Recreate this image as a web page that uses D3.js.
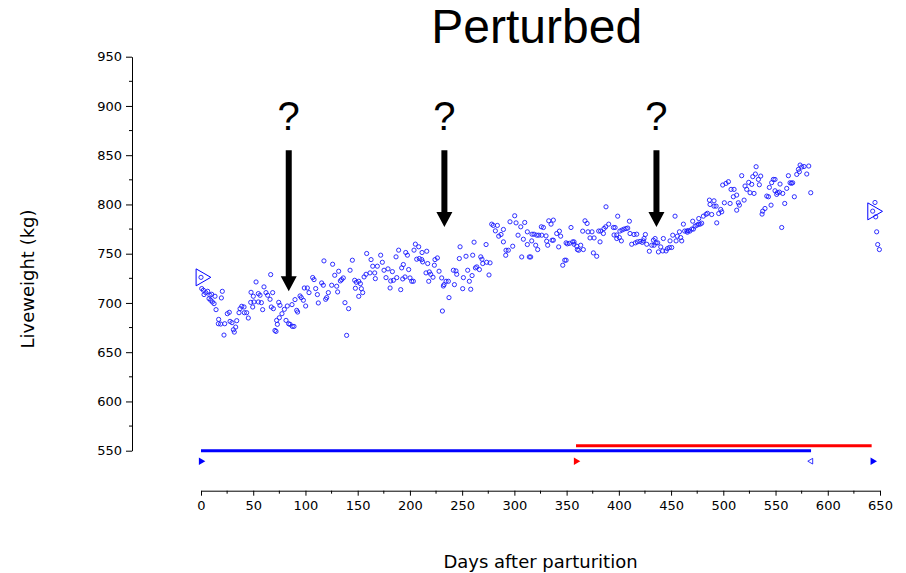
<!DOCTYPE html>
<html>
<head>
<meta charset="utf-8">
<script src="https://cdn.jsdelivr.net/npm/d3@7"></script>
<style>
  html, body { margin: 0; padding: 0; background: #fff; }
  svg { display: block; }
</style>
</head>
<body>
<svg id="chart" width="906" height="573"></svg>
<script>
// Daily liveweight records: [day after parturition, liveweight kg]
const weighings = [
  [0,726],[0.7,714.6],[2.3,712.9],[2.9,708.5],[4.5,710.5],[6.4,711.8],[8.6,707.8],[10.2,708.8],[7.7,704.4],[9.3,702.7],
  [10.9,701],[12.5,699.3],[13.4,706.8],[20.4,711.8],[19.5,705.1],[14.4,693.2],[16.9,683.3],[18.8,678.6],[16.6,678.9],[22.7,678.9],
  [25.2,689.1],[27.1,690.5],[27.8,681.3],[29.7,680],[34.2,682],[33.2,675.5],[31,672.8],[31.9,670.4],[22,667.4],[37.4,694.2],
  [39,696.6],[41.2,695.9],[36.4,690.1],[41.5,690.1],[43.7,690.1],[45.3,684.7],[49.5,695.9],[47.9,710.8],[50.1,706.8],[52.7,721.3],
  [54.9,709.5],[56.5,707.8],[60.3,716.3],[62.2,710.5],[63.8,707.8],[68.6,710.5],[66.1,703.7],[47.6,700.6],[50.7,701],[54.9,701],
  [57.8,700.3],[59,693.2],[66.7,728.8],[67.3,695.9],[69.3,694.2],[74.4,700.6],[75.6,697.6],[70.8,672.1],[71.8,671.1],[72.4,682.3],
  [73.1,678.3],[75,685],[77.5,689.1],[79.8,693.5],[81.4,682.3],[82.6,696.9],[85.2,678.3],[87.4,676.2],[89,676.2],[83.9,678.9],
  [87.1,698.3],[91.6,692.5],[92.5,690.8],[90,703.4],[94.8,707.1],[96,705.4],[98,702.7],[100.2,696.9],[98.9,715.2],[101.8,715.2],
  [103.4,710.5],[106.9,725.8],[108.2,723.7],[109.8,714.6],[111.4,708.5],[112.3,700],[115.5,720.3],[117.1,718],[117.7,742.7],[119.3,703.7],
  [120.3,705.4],[121.9,710.5],[125.1,718],[126,739.3],[128,728.1],[129.9,717],[130.8,711.2],[131.8,732.2],[133.4,722.4],[134.6,723.7],
  [136.2,725.4],[137.8,700.3],[139.4,667.1],[141.3,694.2],
  [142.7,733.2],[144.9,743.4],[147.1,723],[148.7,721],[151,722],[152.6,719.6],[147.8,714.9],[153.5,714.5],[154.8,710.5],[151,706.7],
  [156.1,726.4],[158,729.1],[161.8,730.5],[164.4,737.3],[166.3,730.5],[166.9,724.7],[168.8,737.3],[158.6,750.2],[162.8,744],[172,748.5],
  [173.6,741.3],[175.2,733.2],[177.1,725.7],[179,734.6],[181,715.2],[183.2,731.8],[181.6,722.3],[184.2,723],[186.7,746.8],[189.2,753.6],
  [187.4,725.7],[192.1,735.6],[193.7,739],[191.2,713.5],[193.1,724.4],[195.3,726.4],[196,751.2],[197.6,748.5],[198.8,733.9],[200.1,725.4],
  [201.7,722],[203.3,722],[203.9,753.6],[205.2,759.7],[208.4,757],[206.5,744.4],[209,745.1],[211.3,744],[211.6,751.2],[216.1,752.5],
  [212.2,741.7],[217,740],[215.4,730.5],[218.6,731.5],[219.9,729.1],[218,722],[222.1,726.1],[224,744],[226.3,745.7],[223.4,738.3],
  [227.9,732.2],[230.4,725.4],[232.7,718.6],[234.6,722],[232,717.2],[236.8,722],[237.4,705.4],[231.1,691.8],[242.6,718.6],[241.6,733.2],
  [244.1,732.5],[244.8,729.1],[248,757],[247.3,745.1],[251.2,725.7],[250.5,714.5],[253.7,747.4],[255.3,733.2],[256.9,722],[258.2,713.9],
  [259.5,727.8],[260.1,748.5],[261.4,761.7],[262.7,735.6],[264,736.6],[266.5,733.9],[267.8,746.8],[269,744.4],[269.7,740],[272.9,759.3],
  [273.5,741.3],[276.7,740.7],[275.7,728.4],[278.3,780],[279.8,778.7],[281.8,773.2],[283.7,778.7],[285,767.8],
  [287.2,769.5],[289.5,774.6],[289.5,762],[295.8,782.4],[300.3,788.5],[301.6,781.3],[298.4,757.6],[294.2,753.5],[292,753.5],[291.7,748.4],
  [303.5,768.8],[306.1,777.3],[309.9,781.7],[308.6,764.7],[307,746.7],[314.3,746.7],[315.6,746.7],[312.4,759.3],[312.4,772.2],[316.9,769.8],
  [318.8,769.8],[316.6,763],[321.4,768.8],[323.3,768.8],[320.4,758.6],[322.3,754.2],[325.8,777.3],[327.8,776.6],[326.2,768.8],[330.3,768.1],
  [330.9,762.7],[331.9,758.6],[332.9,783.4],[335.1,780],[337.3,784.1],[337.3,763.7],[336.1,763.7],[340.5,770.5],[343.1,772.9],[344.3,767.8],
  [342.4,756.9],[346.3,738.3],[348.2,743.4],[349.5,743.4],[349.5,761],[354.2,776.6],[350.7,760],[352.6,760.5],[355.8,762],[357.1,762],
  [357.1,759.6],[359.7,757.6],[360.3,754.2],[361.6,753.5],[363.5,758.6],[366,754.2],[365.4,772.9],[367.6,783.4],[369.6,780.7],[370.5,772.2],
  [374.3,772.2],[372.4,766],[376.3,766],[375.6,750.8],[378.8,747.4],[382,762],[380.7,773],[382.6,773],[385.2,770.5],[385.8,775.6],
  [387.4,777.3],[387.7,797.6],[390.3,780],[394.8,776.6],[396.4,776.6],[395.4,769],[398,769],[398.9,788.1],[398,765.4],[401,773],
  [403,774],[405,775],[407,775.5],[408.5,776],[400.5,766.4],[402.4,763],[410.1,783],[410.7,770.5],[412.3,759.6],[414.5,769.5],
  [415.8,761],[417.7,762],[420.3,762.5],[422.4,761.5],[423.5,763],[417.1,769.8],[425.4,769.5],[426.7,759.6],[424.1,765.4],
  [429.2,752.5],[431.5,758.6],[433.1,763.7],[434.7,765.4],[435.6,761],[437.2,761],[433.7,758.6],[437.9,751.8],[440.1,756.9],[442,752.8],
  [442.6,765.4],[445.2,752.8],[446.5,755.2],[448.4,756.3],[450.6,756.3],[449,763],[451.6,768.8],[453.8,788.1],[454.8,763],[456,767.8],
  [458,772.2],[459.2,766.4],[460.2,763],[461.8,780],[463,773],[465,773],[466.5,773.5],[468,773],[465.6,771.8],[469.8,775],
  [471.4,775],[470.7,783],[473,778],[474.8,779],[476.3,780],[477.8,780],[479.3,781],[476.5,785.7],[480.9,788.1],[483.5,790],
  [484.8,791],[486.7,804.4],[488.9,789.8],[487.3,800],[491.1,798.3],[491.1,803.7],[493.1,798.3],[493.7,781.3],[495.6,790.8],[497.5,794.9],
  [498.5,792.5],[501,801.7],[499.4,819.7],[502.6,821.4],[504.9,823.1],[506.5,801],[507.4,815.3],[510.3,815.3],[509.6,807.8],[512.8,809.5],
  [514.4,801.7],[515.4,799.3],[512.8,794.2],[517.6,829.2],[519.9,804.4],[520.8,818.7],[522.4,815.3],[524.3,822.4],[525.6,811.9],[527.2,820.4],
  [528.2,828.2],[529.4,811.2],[530.7,830.9],[531.4,838.3],[533.6,825.4],[534.5,820],[535.8,828.8],[537.7,793.2],[537.1,790.2],[539.9,795.9],
  [541.6,808.5],[543.2,807.8],[544.1,817.3],[545.7,799.3],[546.3,822.1],[547.9,825.4],[549.5,825.4],[549.5,813.9],[551.1,810.2],[551.8,812],
  [553.7,812.5],[554.3,820.7],[555.9,776.6],[556.9,811.2],[558.8,801],[560.7,816.3],[562.3,829.2],[563.9,822],[565.2,821.5],[566.4,822],
  [568,807.8],[570.3,830.5],[571.9,835.6],[573.5,840],[572.8,833.2],[575.1,838],[577.3,838.5],[579.9,830.9],[581.8,839],[583.7,811.9],
  [645.2,802],[643,793.2],[645.9,787.4],[646.8,772.2],[647.8,759.3],[649.4,754.2]
];

// Calving events, marked on the weight series
const calvingMarks = [[0, 726], [643, 793]];

// Management periods along the bottom of the plot
const bluePeriod = [0, 584];
const redPeriod = [359, 642];
const periodLevel = 550;
// Event markers under the period bars
const eventDays = [0, 359, 584, 643];
const eventColours = ["blue", "red", "blue", "blue"];
const eventKinds = ["start", "start", "end", "start"];

// Questioned moments: day, arrow tip (kg), shared shaft top and label level
const queryDays = [84, 233, 436];
const queryTips = [712, 777, 777];
const queryTop = 855;
const queryLabel = 876;

const xTicks = d3.range(0, 651, 50);
const yTicks = d3.range(550, 951, 50);
const xMinor = d3.range(25, 651, 50);
const yMinor = d3.range(575, 951, 50);

const svg = d3.select("#chart");
const x = d3.scaleLinear().domain([0, 650]).range([201, 880]);
const y = d3.scaleLinear().domain([550, 950]).range([450.7, 56.7]);

const tickFont = "'DejaVu Sans', sans-serif";

// x axis with minor ticks every 25 days
const xAxisG = svg.append("g").attr("transform", "translate(0,490.7)");
xAxisG.call(d3.axisBottom(x).tickValues(xTicks).tickSize(5).tickSizeOuter(0).tickPadding(5).tickFormat(d3.format("d")));
xAxisG.append("g").selectAll("line").data(xMinor).join("line")
  .attr("x1", d => x(d)).attr("x2", d => x(d)).attr("y1", 0).attr("y2", 3)
  .attr("stroke", "#000");

// y axis with minor ticks every 25 kg
const yAxisG = svg.append("g").attr("transform", "translate(132,0)");
yAxisG.call(d3.axisLeft(y).tickValues(yTicks).tickSize(6).tickSizeOuter(0).tickPadding(4).tickFormat(d3.format("d")));
yAxisG.append("g").selectAll("line").data(yMinor).join("line")
  .attr("y1", d => y(d)).attr("y2", d => y(d)).attr("x1", 0).attr("x2", -3)
  .attr("stroke", "#000");

svg.selectAll(".tick text").attr("font-family", tickFont).attr("font-size", 13).attr("fill", "#000");
svg.selectAll(".domain, .tick line").attr("stroke", "#000").attr("stroke-width", 1);

// Weight observations
svg.append("g").selectAll("circle").data(weighings).join("circle")
  .attr("cx", d => x(d[0])).attr("cy", d => y(d[1])).attr("r", 2.1)
  .attr("fill", "none").attr("stroke", "#1a1aff").attr("stroke-width", 0.9);

// Calving markers: open right-pointing triangles
const bigTri = d3.symbol().type(d3.symbolTriangle).size(125);
svg.append("g").selectAll("path").data(calvingMarks).join("path")
  .attr("d", bigTri)
  .attr("transform", d => `translate(${x(d[0])},${y(d[1])}) rotate(90)`)
  .attr("fill", "none").attr("stroke", "blue").attr("stroke-width", 1);

// Period bars
svg.append("line")
  .attr("x1", x(redPeriod[0])).attr("x2", x(redPeriod[1]))
  .attr("y1", y(periodLevel) - 5).attr("y2", y(periodLevel) - 5)
  .attr("stroke", "red").attr("stroke-width", 3);
svg.append("line")
  .attr("x1", x(bluePeriod[0])).attr("x2", x(bluePeriod[1]))
  .attr("y1", y(periodLevel)).attr("y2", y(periodLevel))
  .attr("stroke", "blue").attr("stroke-width", 3);

// Event markers
const smallTri = d3.symbol().type(d3.symbolTriangle).size(24);
const smallTriOpen = d3.symbol().type(d3.symbolTriangle).size(14);
svg.append("g").selectAll("path").data(eventDays).join("path")
  .attr("d", (d, i) => eventKinds[i] === "end" ? smallTriOpen() : smallTri())
  .attr("transform", (d, i) => `translate(${x(d)},${y(periodLevel) + 10.5}) rotate(${eventKinds[i] === "end" ? -90 : 90})`)
  .attr("fill", (d, i) => eventKinds[i] === "end" ? "none" : eventColours[i])
  .attr("stroke", (d, i) => eventColours[i])
  .attr("stroke-width", (d, i) => eventKinds[i] === "end" ? 0.8 : 0);

// Question arrows
const qg = svg.append("g");
queryDays.forEach((d, i) => {
  const cx = x(d), top = y(queryTop), tip = y(queryTips[i]);
  const headLen = 15, headHalf = 8, shaftHalf = 3;
  qg.append("path")
    .attr("d", `M${cx - shaftHalf},${top}H${cx + shaftHalf}V${tip - headLen}H${cx + headHalf}L${cx},${tip}L${cx - headHalf},${tip - headLen}H${cx - shaftHalf}Z`)
    .attr("fill", "#000");
  qg.append("text")
    .attr("x", cx).attr("y", y(queryLabel))
    .attr("text-anchor", "middle")
    .attr("font-family", "'Liberation Sans', Arial, sans-serif")
    .attr("font-size", 40).attr("fill", "#000")
    .text("?");
});

// Title and axis labels
svg.append("text")
  .attr("x", 536.7).attr("y", 43)
  .attr("text-anchor", "middle")
  .attr("font-family", "'Liberation Sans', Arial, sans-serif")
  .attr("font-size", 48).attr("fill", "#000")
  .text("Perturbed");

svg.append("text")
  .attr("x", 540.5).attr("y", 568)
  .attr("text-anchor", "middle")
  .attr("font-family", tickFont)
  .attr("font-size", 18).attr("fill", "#000")
  .text("Days after parturition");

svg.append("text")
  .attr("transform", "translate(34,279) rotate(-90)")
  .attr("text-anchor", "middle")
  .attr("font-family", tickFont)
  .attr("font-size", 18).attr("fill", "#000")
  .text("Liveweight (kg)");
</script>
</body>
</html>
